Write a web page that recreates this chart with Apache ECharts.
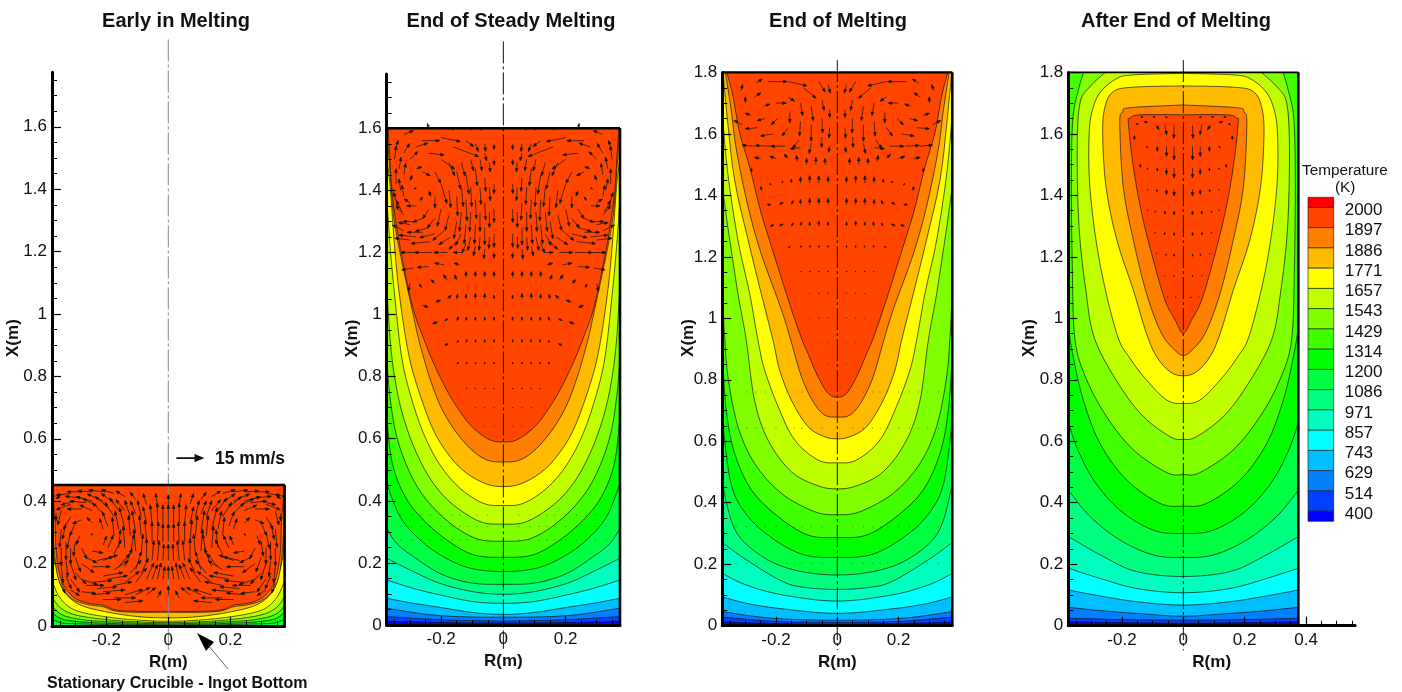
<!DOCTYPE html>
<html><head><meta charset="utf-8">
<style>html,body{margin:0;padding:0;background:#fff}#c{width:1402px;height:692px}</style>
<script src="https://cdn.jsdelivr.net/npm/echarts@6/dist/echarts.min.js"></script>
</head><body><div id="c"></div>
<script>
/* ---------- tick labels, legend ---------- */
const panelTitles = ['Early in Melting','End of Steady Melting','End of Melting','After End of Melting'];
const xMajor = [-0.2,0,0.2];
const xMajorLast = [-0.2,0,0.2,0.4];
const xMinor = [-0.35,-0.3,-0.25,-0.15,-0.1,-0.05,0.05,0.1,0.15,0.25,0.3,0.35];
const xMinorLast = [-0.35,-0.3,-0.25,-0.15,-0.1,-0.05,0.05,0.1,0.15,0.25,0.3,0.35,0.45,0.5,0.55];
const yMajor16 = [0,0.2,0.4,0.6,0.8,1,1.2,1.4,1.6];
const yMajor18 = [0,0.2,0.4,0.6,0.8,1,1.2,1.4,1.6,1.8];
const yMinor = [0.05,0.1,0.15,0.25,0.3,0.35,0.45,0.5,0.55,0.65,0.7,0.75,0.85,0.9,0.95,1.05,1.1,1.15,1.25,1.3,1.35,1.45,1.5,1.55,1.65,1.7,1.75];
const legendLabels = ['2000','1897','1886','1771','1657','1543','1429','1314','1200','1086','971','857','743','629','514','400'];
const bandColors = ['#ff0000','#ff4500','#ff8000','#ffbb00','#ffff00','#bfff00','#80ff00','#40ff00','#00ff00','#00ff40','#00ff80','#00ffbf','#00ffff','#00bfff','#0080ff','#0040ff','#0000ff'];

/* ---------- temperature contours: right half, [R, X] in metres ---------- */
const p1Contours = [
 [[0,.047],[.098,.047],[.168,.051],[.211,.067],[.258,.073],[.308,.094],[.345,.147],[.361,.233],[.365,.33],[.371,.41],[.375,.452]],
 [[0,.044],[.098,.044],[.17,.048],[.211,.062],[.26,.069],[.312,.088],[.351,.14],[.367,.23],[.372,.33],[.375,.42]],
 [[0,.026],[.098,.03],[.205,.046],[.29,.07],[.339,.115],[.36,.18],[.372,.24],[.375,.29]],
 [[0,.015],[.098,.019],[.205,.03],[.301,.051],[.349,.09],[.375,.145]],
 [[0,.011],[.098,.013],[.205,.021],[.301,.036],[.35,.06],[.375,.095]],
 [[0,.007],[.205,.014],[.3,.024],[.35,.04],[.375,.065]],
 [[0,.004],[.205,.009],[.3,.015],[.35,.025],[.375,.045]],
 [[0,.002],[.3,.007],[.35,.012],[.375,.022]]
];
const p2Contours = [
 [[0,.59],[.043,.596],[.096,.634],[.139,.687],[.182,.757],[.225,.845],[.257,.925],[.289,1.015],[.322,1.165],[.348,1.316],[.359,1.412],[.37,1.585],[.372,1.6]],
 [[0,.525],[.054,.532],[.107,.569],[.161,.634],[.204,.709],[.238,.8],[.263,.886],[.277,.94],[.3,1.047],[.332,1.198],[.354,1.326],[.364,1.455],[.375,1.6]],
 [[0,.446],[.054,.454],[.118,.489],[.171,.542],[.225,.628],[.273,.757],[.305,.875],[.332,1.047],[.348,1.198],[.364,1.412],[.375,1.5]],
 [[0,.385],[.064,.392],[.139,.44],[.204,.516],[.257,.618],[.3,.746],[.327,.865],[.348,1.047],[.364,1.219],[.375,1.38]],
 [[0,.325],[.075,.333],[.161,.387],[.225,.456],[.279,.553],[.322,.671],[.348,.789],[.364,.92],[.375,1.1]],
 [[0,.27],[.086,.278],[.171,.328],[.247,.403],[.3,.489],[.343,.607],[.365,.74],[.375,.865]],
 [[0,.218],[.096,.226],[.182,.274],[.257,.338],[.316,.414],[.357,.521],[.375,.671]],
 [[0,.172],[.107,.183],[.193,.22],[.268,.274],[.332,.349],[.375,.456]],
 [[0,.131],[.107,.136],[.204,.166],[.289,.22],[.343,.263],[.375,.311]],
 [[0,.099],[.096,.107],[.204,.134],[.289,.172],[.375,.215]],
 [[0,.07],[.096,.075],[.204,.097],[.289,.118],[.375,.145]],
 [[0,.034],[.096,.04],[.204,.057],[.289,.07],[.375,.086]],
 [[0,.025],[.204,.03],[.375,.054]],
 [[0,.013],[.2,.017],[.375,.027]],
 [[0,.006],[.2,.008],[.375,.012]]
];
const p3Contours = [
 [[0,.743],[.03,.756],[.063,.81],[.096,.886],[.115,.93],[.15,1.03],[.193,1.165],[.248,1.342],[.286,1.493],[.318,1.602],[.34,1.721],[.36,1.8]],
 [[0,.679],[.041,.685],[.079,.729],[.117,.81],[.152,.93],[.183,1.03],[.248,1.21],[.291,1.363],[.329,1.548],[.346,1.678],[.365,1.8]],
 [[0,.608],[.041,.615],[.096,.648],[.15,.734],[.188,.832],[.21,.93],[.248,1.081],[.291,1.255],[.335,1.45],[.357,1.634],[.373,1.8]],
 [[0,.53],[.063,.539],[.139,.604],[.193,.713],[.237,.832],[.259,.93],[.286,1.081],[.324,1.255],[.357,1.472],[.375,1.667]],
 [[0,.445],[.063,.455],[.15,.501],[.226,.604],[.27,.734],[.297,.93],[.324,1.081],[.357,1.298],[.375,1.43]],
 [[0,.361],[.074,.371],[.183,.431],[.27,.528],[.324,.648],[.355,.8],[.367,.93],[.375,1.1]],
 [[0,.287],[.096,.295],[.193,.355],[.28,.441],[.335,.561],[.362,.7],[.375,.88]],
 [[0,.222],[.107,.23],[.204,.279],[.291,.355],[.346,.46],[.375,.67]],
 [[0,.165],[.117,.176],[.215,.208],[.302,.27],[.345,.34],[.375,.463]],
 [[0,.118],[.10,.124],[.177,.143],[.296,.214],[.375,.271]],
 [[0,.08],[.177,.10],[.296,.132],[.375,.17]],
 [[0,.04],[.188,.056],[.296,.073],[.375,.094]],
 [[0,.018],[.21,.024],[.375,.046]],
 [[0,.011],[.2,.014],[.375,.028]],
 [[0,.005],[.2,.007],[.375,.012]]
];
const p4Contours = [
 [[0,.951],[.027,.995],[.06,1.06],[.098,1.19],[.136,1.342],[.163,1.493],[.179,1.634],[.174,1.651],[.141,1.662],[0,1.662]],
 [[0,.88],[.022,.891],[.071,.951],[.12,1.081],[.163,1.255],[.196,1.428],[.207,1.634],[.198,1.671],[.174,1.685],[0,1.694]],
 [[0,.813],[.043,.826],[.087,.875],[.12,.95],[.163,1.092],[.217,1.255],[.252,1.428],[.263,1.602],[.255,1.689],[.228,1.738],[.163,1.752],[0,1.756]],
 [[0,.723],[.054,.734],[.12,.799],[.174,.87],[.217,.95],[.272,1.179],[.304,1.417],[.307,1.602],[.293,1.689],[.266,1.741],[.217,1.78],[.163,1.792],[0,1.797]],
 [[0,.606],[.043,.615],[.13,.68],[.207,.78],[.288,.93],[.318,1.092],[.34,1.298],[.346,1.548],[.337,1.7],[.304,1.754],[.255,1.8]],
 [[0,.492],[.054,.498],[.163,.572],[.25,.68],[.315,.80],[.353,.93],[.362,1.168],[.365,1.45],[.36,1.65],[.34,1.75],[.325,1.8]],
 [[0,.389],[.076,.398],[.185,.474],[.272,.593],[.326,.734],[.359,.875],[.375,.97]],
 [[0,.30],[.098,.311],[.207,.376],[.293,.474],[.348,.582],[.375,.664]],
 [[0,.222],[.098,.23],[.207,.279],[.304,.355],[.375,.441]],
 [[0,.16],[.152,.176],[.261,.225],[.375,.29]],
 [[0,.107],[.152,.121],[.272,.154],[.375,.187]],
 [[0,.067],[.152,.078],[.272,.097],[.375,.116]],
 [[0,.031],[.152,.04],[.272,.049],[.375,.06]],
 [[0,.018],[.2,.02],[.375,.024]],
 [[0,.008],[.2,.01],[.375,.013]]
];

/* ---------- velocity vectors: right half, [R(m), X(m), u(mm/s), v(mm/s)] ---------- */
const p1Vectors = [
 [0,.38,0,7],[0,.33,0,10],[0,.27,0,10],[0,.21,0,9],[0,.15,0,7],[0,.1,0,5],
 [.035,.385,1,7],[.035,.33,0,11],[.035,.27,-.5,11],[.035,.21,-1,11],[.035,.15,-2,9],[.035,.09,-2,4],
 [.07,.39,2,6],[.07,.33,2,9],[.07,.27,1,12],[.07,.21,0,12],[.07,.15,-4,9],[.07,.1,-5,4],
 [.105,.405,3,4],[.105,.36,3,7],[.105,.3,2,12],[.105,.24,1,12],[.105,.18,-3,10],[.105,.14,-6,8],[.105,.1,-8,4],
 [.14,.415,5,3],[.14,.37,5,6],[.14,.31,3,12],[.14,.25,1,12],[.14,.19,-4,10],[.14,.14,-8,6],[.14,.1,-10,3],[.14,.075,-10,1],
 [.175,.425,7,2],[.175,.395,7,5],[.175,.35,5,8],[.175,.29,1,10],[.175,.23,-4,8],[.175,.18,-8,5],[.175,.13,-10,2],[.175,.09,-12,0],
 [.21,.43,8,1],[.21,.4,9,4],[.21,.36,6,6],[.21,.31,2,6],[.21,.26,-2,5],[.21,.21,-8,3],[.21,.16,-11,2],[.21,.11,-12,1],[.21,.085,-10,0],
 [.245,.43,8,.5],[.245,.4,9,2.5],[.245,.37,7,3],[.245,.33,3,3],[.25,.29,-1,1],[.245,.24,-6,-1],[.245,.19,-10,0],[.245,.14,-11,1],[.245,.1,-10,1],
 [.28,.43,8,0],[.28,.41,9,1],[.28,.375,8,0],[.28,.34,5,-2],[.285,.29,2,-5],[.28,.25,-3,-6],[.28,.2,-7,-5],[.28,.15,-9,-3],[.28,.11,-8,-1],
 [.315,.425,8,-1],[.315,.39,8,-3],[.315,.35,4,-7],[.315,.3,2,-9],[.315,.25,0,-9],[.315,.2,-3,-9],[.315,.15,-5,-7],[.315,.115,-5,-3],
 [.345,.42,3,-2],[.345,.37,2,-8],[.345,.31,1,-10],[.345,.25,0,-10],[.345,.19,-1,-9],[.345,.14,-2,-6],
 [.365,.42,1,-1],[.362,.36,0,-4],
 [.0175,.33,0,10],[.0175,.27,0,10],[.0175,.21,-.5,9],[.0175,.15,-1,7],[.0525,.33,1,10],[.0525,.27,0,11],[.0525,.21,-1,11],[.0525,.15,-3,8],
 [.0875,.35,2,9],[.0875,.29,1,11],[.0875,.23,-1,11],[.0875,.17,-4,8],[.1225,.35,3,9],[.1225,.29,1,11],[.1225,.23,-2,11],[.1225,.17,-6,7],
 [.16,.37,5,7],[.16,.31,2,10],[.16,.25,-1,10],[.16,.19,-6,7],[.195,.38,7,6],[.195,.32,3,8],[.195,.25,-3,7],[.195,.15,-11,2],
 [.23,.385,8,4],[.23,.21,-9,2],[.23,.12,-11,1],[.265,.395,9,1],[.265,.22,-6,-3],[.265,.13,-10,0],
 [.3,.4,8,-2],[.3,.33,3,-7],[.3,.27,1,-8],[.3,.22,-3,-8],[.3,.17,-6,-6],[.33,.33,2,-9],[.33,.27,0,-10],[.33,.21,-1,-9],[.33,.16,-3,-7]
];
const p2Vectors = [
 [.03,1.55,0,-3],[.03,1.5,0,-3],[.03,1.42,0,-5],[.03,1.34,0,-7],[.03,1.26,0,-7],[.03,1.2,0,-3],
 [.06,1.55,-.5,-4],[.06,1.52,-1,-4],[.06,1.44,-.5,-7],[.06,1.36,-.5,-9],[.06,1.28,0,-9],[.06,1.21,.5,-5],
 [.09,1.55,-1.5,-4],[.09,1.47,-1,-9],[.09,1.37,-.5,-10],[.09,1.29,.5,-10],[.09,1.22,1,-5],
 [.12,1.56,-4,-3],[.12,1.45,-1.5,-10],[.12,1.37,-.5,-11],[.12,1.29,1,-10],[.12,1.23,2,-5],
 [.16,1.54,-13,-5],[.15,1.46,-2,-9],[.15,1.38,-.5,-10],[.15,1.3,1.5,-9],[.15,1.235,4,-4],
 [.2,1.57,-10,-2],[.2,1.5,-7,-5],[.2,1.42,-3,-10],[.2,1.34,2,-9],[.19,1.27,6,-5],
 [.26,1.56,-9,0],[.24,1.52,-8,-1],[.24,1.4,-1,-3],[.24,1.34,3,-5],[.24,1.28,7,-2],[.235,1.235,10,-1],
 [.28,1.54,-6,2],[.28,1.47,-3,1],[.28,1.41,1,-1],[.28,1.35,5,0],[.28,1.3,7,0],[.28,1.25,9,1],
 [.32,1.58,-5,2],[.32,1.52,-3,5],[.32,1.45,-1,6],[.32,1.38,1,6],[.32,1.32,4,5],[.32,1.27,6,3],
 [.35,1.53,-2,5],[.35,1.5,-1,7],[.345,1.42,0,8],[.34,1.35,2,7],
 [.13,1.2,5,0],[.18,1.2,7,0],[.23,1.2,9,0],[.28,1.2,8,0],
 [.14,1.16,3,1],[.19,1.16,5,1],[.24,1.155,6,-.5],[.29,1.15,6,-1],
 [.3,1.1,1,-4],[.27,1.1,-1,-2],[.26,1.03,-3,-1],[.22,1.04,-3,1],[.18,1.05,-2,2],[.22,1.1,2,2],
 [.03,1.12,0,3],[.06,1.12,0,3],[.09,1.12,0,3],[.12,1.12,0,3],[.15,1.11,1,3],[.18,1.11,2,3],
 [.03,1.05,0,2],[.06,1.05,0,3],[.09,1.05,0,3],[.12,1.05,0,2.5],[.15,1.05,-.5,2.5],
 [.03,.98,0,2],[.06,.98,0,2],[.09,.98,0,2],[.12,.98,-.3,2],[.15,.98,-1,2],[.19,.98,-2,1],[.23,.97,-3,1],
 [.03,.91,0,1.5],[.06,.91,0,1.5],[.09,.91,-.2,1.5],[.12,.91,-.5,1.5],[.15,.91,-1,1],[.19,.9,-2,1],
 [.03,.84,0,1],[.06,.84,0,1],[.09,.84,-.2,1],[.12,.84,-.5,1],[.15,.84,-1,1],
 [.03,.76,0,.5],[.06,.76,0,.6],[.09,.76,0,.6],[.12,.76,-.3,.5],[.03,.7,0,.3],[.06,.7,0,.3],[.09,.7,0,.3],[.03,.64,0,.2],[.06,.64,0,.2],
 [.24,1.6,.6,2.5],[.1,1.595,1,.6],[.07,1.595,1,.4],[.16,1.595,1,.6],
 [.045,1.49,-.5,-5],[.045,1.41,-.5,-7],[.045,1.33,0,-8],[.045,1.25,.3,-6],
 [.075,1.5,-1,-6],[.075,1.41,-.5,-9],[.075,1.33,0,-10],[.075,1.25,.5,-7],
 [.105,1.5,-1.5,-6],[.105,1.41,-.5,-10],[.105,1.33,.5,-10],[.105,1.25,1.5,-7],
 [.135,1.49,-2,-7],[.135,1.41,-1,-10],[.135,1.33,1,-10],[.135,1.26,3,-6],
 [.175,1.49,-3,-7],[.175,1.4,-1,-9],[.175,1.32,2,-8],[.17,1.25,6,-4],
 [.22,1.46,-3,-6],[.22,1.38,0,-6],[.22,1.31,4,-5],[.22,1.26,8,-2],
 [.26,1.46,-4,-2],[.26,1.38,1,-2],[.26,1.31,5,-2],[.26,1.265,8,0],
 [.3,1.5,-4,4],[.3,1.43,-1,3],[.3,1.36,3,2],[.3,1.29,6,1],[.3,1.24,8,1],
 [.335,1.47,-1,6],[.33,1.4,1,6],[.325,1.33,3,6]
];
const p3Vectors = [
 [.03,1.76,-1,-4],[.06,1.77,-3,-5],[.11,1.75,-6,-5],[.16,1.77,-9,-2],[.225,1.77,-9,0],[.265,1.765,-3,2],
 [.025,1.68,0,-4],[.025,1.62,.3,-5],[.025,1.56,.5,-3],[.05,1.71,-1,-5],[.05,1.65,-.3,-7],[.05,1.59,.2,-5],
 [.085,1.69,-1,-7],[.085,1.63,0,-8],[.085,1.57,1,-5],[.12,1.7,-1,-6],[.12,1.64,.5,-7],[.125,1.58,3,-4],
 [.16,1.72,-3,-2],[.155,1.67,0,-5],[.16,1.62,3,-4],[.2,1.7,-5,0],[.195,1.65,3,-3],[.24,1.69,-3,1],[.235,1.65,4,-1],[.21,1.6,6,-1],
 [.27,1.72,-3,2],[.28,1.66,3,1],[.26,1.62,6,-.5],[.3,1.7,0,3],[.31,1.63,4,2],[.315,1.74,-1,3],
 [.12,1.555,5,-.5],[.17,1.56,7,0],[.22,1.56,7,.3],[.27,1.56,6,.5],
 [.04,1.5,0,3],[.07,1.5,0,3.5],[.1,1.5,0,3],[.13,1.51,.5,3],[.16,1.52,2,2],[.2,1.52,3,1],[.25,1.52,3,.5],[.28,1.49,0,-2],
 [.03,1.44,0,3],[.06,1.44,0,3.5],[.09,1.44,0,3.5],[.12,1.44,0,3],[.15,1.44,0,2],[.18,1.44,-.3,1],[.22,1.44,-.5,-1],[.25,1.43,-.5,-2],
 [.03,1.37,0,3],[.06,1.37,0,3],[.09,1.37,0,3],[.12,1.37,0,2.5],[.15,1.37,-1,2],[.19,1.37,-2,1],[.23,1.37,-2,0],
 [.03,1.3,0,2],[.06,1.3,0,2.5],[.09,1.3,0,2],[.12,1.3,-.5,2],[.15,1.3,-1,1.5],[.19,1.3,-2,1],[.22,1.3,-2,.5],
 [.03,1.23,0,1],[.06,1.23,0,1],[.09,1.23,-.3,1],[.12,1.23,-.5,1],[.16,1.23,-1,.5],
 [.03,1.15,0,.6],[.06,1.15,0,.6],[.09,1.15,-.2,.6],[.12,1.15,-.3,.4],[.03,1.08,0,.4],[.06,1.08,0,.4],[.09,1.08,0,.3],
 [.03,1,0,.3],[.06,1,0,.3],[.09,1,0,.2],[.03,.92,0,.2],[.06,.92,0,.2],[.03,.85,0,.2]
];
const p4Vectors = [
 [.03,1.63,.2,-8],[.06,1.63,-1,-6],[.09,1.63,-2,-3],[.13,1.64,-2.5,-.5],[.155,1.63,-1.5,.5],
 [.03,1.56,0,-8],[.055,1.56,0,-6],[.085,1.56,0,-3],[.115,1.56,1,-1],[.16,1.58,-.2,2.5],
 [.03,1.49,0,-6],[.055,1.49,0,-4],[.085,1.49,0,-2],[.115,1.49,.5,-1],[.14,1.49,0,2],
 [.03,1.42,0,-4],[.055,1.42,0,-3],[.085,1.42,.3,-1.5],[.115,1.42,.5,-.5],
 [.03,1.35,0,-2.5],[.06,1.35,0,-2],[.09,1.35,.5,-1],[.115,1.35,.5,.5],
 [.03,1.28,0,-2],[.06,1.28,.3,-1.5],[.09,1.28,.5,-.5],
 [.03,1.21,0,-1.5],[.055,1.21,.3,-1],[.085,1.21,.5,.3],
 [.03,1.14,0,-1],[.06,1.14,.3,-.5],[.025,1.07,0,-.6],[.05,1.07,.2,-.3],
 [.1,1.655,-1.5,0],[.06,1.655,-1.5,-.3],[.14,1.655,-1.5,0]
];
const vectorDotColumns = [.05,.085,.115,.14,.165,.2,.235,.265,.295,.33];
const p2DotRows = [.354,.317,.274];
const p3DotRows = [.76,.642,.322,.203];
const referenceVector = [[.026,.538,15,0]];

/* ---------- layout (pixels) ---------- */
const layouts = [
 {left:52,  top:72.2,width:232.6,height:553.8,xMax:.375,yMax:1.775,wallTop:.452,center:[1.88,-.077],cl:'#8a8a8a',xM:xMajor,xm:xMinor,yM:yMajor16,vs:.0058,vw:.75,yGap:30},
 {left:386.7,top:74, width:233.3,height:551,  xMax:.375,yMax:1.775,wallTop:1.6, center:[1.88,-.077],cl:'#111',xM:xMajor,xm:xMinor,yM:yMajor16,vs:.0062,vw:.7,yGap:26},
 {left:722.3,top:72.4,width:230, height:553.3,xMax:.375,yMax:1.8,  wallTop:1.8, center:[1.84,-.08],cl:'#111',xM:xMajor,xm:xMinor,yM:yMajor18,vs:.0068,vw:.7,yGap:25},
 {left:1068.3,top:72.4,width:286.8,height:553.3,xMax:.56,yMax:1.8, wallTop:1.8, center:[1.84,-.08],cl:'#111',xM:xMajorLast,xm:xMinorLast,yM:yMajor18,vs:.0056,vw:.7,yGap:30}
];
const contoursByPanel = [p1Contours,p2Contours,p3Contours,p4Contours];
const vectorsByPanel = [p1Vectors,p2Vectors,p3Vectors,p4Vectors];
const WALL = .375, MM_S_TO_M = .00557, FONT = 'Arial, "Liberation Sans", sans-serif';

function crossDots(rows){const o=[];rows.forEach(x=>vectorDotColumns.forEach(r=>o.push([r,x,0,0])));return o;}
const dotsByPanel = [[],crossDots(p2DotRows),crossDots(p3DotRows),[]];
function mirrored(list){
  const out=[];
  list.forEach(v=>{out.push(v); if(v[0]!==0) out.push([-v[0],v[1],-v[2],v[3]]);});
  return out;
}
function smoothPath(p){
  let d='M'+p[0][0].toFixed(1)+' '+p[0][1].toFixed(1);
  for(let i=0;i<p.length-1;i++){
    const a=p[Math.max(i-1,0)],b=p[i],c=p[i+1],e=p[Math.min(i+2,p.length-1)];
    d+='C'+(b[0]+(c[0]-a[0])/6).toFixed(1)+' '+(b[1]+(c[1]-a[1])/6).toFixed(1)+' '
      +(c[0]-(e[0]-b[0])/6).toFixed(1)+' '+(c[1]-(e[1]-b[1])/6).toFixed(1)+' '
      +c[0].toFixed(1)+' '+c[1].toFixed(1);
  }
  return d;
}
function contourRender(contours,top){
  return function(params,api){
    const idx=contours.length-1-params.dataIndex;
    const right=contours[idx];
    const left=right.slice(1).reverse().map(q=>[-q[0],q[1]]);
    const pts=left.concat(right).map(q=>api.coord(q));
    const last=right[right.length-1];
    let d=smoothPath(pts);
    if(last[0]!==0 && last[1]<top){
      const a=api.coord([WALL,top]),b=api.coord([-WALL,top]);
      d+='L'+a[0].toFixed(1)+' '+a[1].toFixed(1)+'L'+b[0].toFixed(1)+' '+b[1].toFixed(1);
    }
    d+='Z';
    return {type:'path',shape:{pathData:d},
      style:{fill:bandColors[idx+1],stroke:'rgba(15,15,15,.85)',lineWidth:.8}};
  };
}
function vectorRender(scale,width,head,halfHead){
  return function(params,api){
    const R=api.value(0),X=api.value(1),u=api.value(2),v=api.value(3);
    const t=api.coord([R,X]);
    if(u===0&&v===0){return {type:'rect',shape:{x:t[0]-.5,y:t[1]-.5,width:1,height:1},style:{fill:'rgba(20,40,0,.55)'}};}
    const h=api.coord([R+u*scale,X+v*scale]);
    const dx=h[0]-t[0],dy=h[1]-t[1],L=Math.hypot(dx,dy)||1,ux=dx/L,uy=dy/L;
    const hs=Math.min(head,L*.6),hw=halfHead*hs/head;
    const bx=h[0]-ux*hs,by=h[1]-uy*hs;
    const d='M'+t[0].toFixed(1)+' '+t[1].toFixed(1)+'L'+bx.toFixed(1)+' '+by.toFixed(1)
      +'M'+h[0].toFixed(1)+' '+h[1].toFixed(1)+'L'+(bx-uy*hw).toFixed(1)+' '+(by+ux*hw).toFixed(1)
      +'L'+(bx+uy*hw).toFixed(1)+' '+(by-ux*hw).toFixed(1)+'Z';
    return {type:'path',shape:{pathData:d},style:{fill:'#111',stroke:'#111',lineWidth:width}};
  };
}

const grid=[],xAxis=[],yAxis=[],series=[];
layouts.forEach((g,i)=>{
  grid.push({left:g.left,top:g.top,width:g.width,height:g.height,containLabel:false,outerBoundsMode:'none'});
  const common={gridIndex:i,type:'value',position:'bottom',min:-WALL,max:g.xMax,splitLine:{show:false},z:8};
  xAxis.push(Object.assign({},common,{
    name:'R(m)',nameLocation:'middle',nameGap:26,
    nameTextStyle:{fontFamily:FONT,fontSize:17,fontWeight:'bold',color:'#111'},
    axisLine:{show:true,onZero:false,lineStyle:{color:'#000',width:3}},
    axisTick:{show:true,inside:true,length:9,customValues:g.xM,lineStyle:{color:'#000',width:1.2}},
    axisLabel:{show:true,customValues:g.xM,margin:6,fontFamily:FONT,fontSize:17,color:'#111',formatter:v=>String(v)}
  }));
  xAxis.push(Object.assign({},common,{
    axisLine:{show:false,onZero:false},
    axisTick:{show:true,inside:true,length:5,customValues:g.xm,lineStyle:{color:'#000',width:1}},
    axisLabel:{show:false}
  }));
  const ycommon={gridIndex:i,type:'value',position:'left',min:0,max:g.yMax,splitLine:{show:false},z:8};
  yAxis.push(Object.assign({},ycommon,{
    name:'X(m)',nameLocation:'middle',nameGap:g.yGap,nameRotate:90,nameMoveOverlap:false,
    nameTextStyle:{fontFamily:FONT,fontSize:17,fontWeight:'bold',color:'#111',padding:[0,0,0,22]},
    axisLine:{show:true,onZero:false,lineStyle:{color:'#000',width:3}},
    axisTick:{show:true,inside:true,length:9,customValues:g.yM,lineStyle:{color:'#000',width:1.2}},
    axisLabel:{show:true,customValues:g.yM,margin:5,fontFamily:FONT,fontSize:17,color:'#111',formatter:v=>String(v)}
  }));
  yAxis.push(Object.assign({},ycommon,{
    axisLine:{show:false,onZero:false},
    axisTick:{show:true,inside:true,length:5,customValues:yMinor,lineStyle:{color:'#000',width:1}},
    axisLabel:{show:false}
  }));
  const xi=i*2, yi=i*2;
  const contours=contoursByPanel[i];
  series.push({type:'custom',name:'base'+i,xAxisIndex:xi,yAxisIndex:yi,coordinateSystem:'cartesian2d',z:2,silent:true,
    data:[[WALL,g.wallTop]],
    renderItem:(p,api)=>{const a=api.coord([-api.value(0),api.value(1)]),b=api.coord([api.value(0),0]);
      return {type:'rect',shape:{x:a[0],y:a[1],width:b[0]-a[0],height:b[1]-a[1]},style:{fill:bandColors[contours.length+1]}};}});
  series.push({type:'custom',name:'contours'+i,xAxisIndex:xi,yAxisIndex:yi,coordinateSystem:'cartesian2d',z:3,silent:true,
    data:contours.map((c,k)=>[k]),renderItem:contourRender(contours,g.wallTop),clip:true});
  series.push({type:'custom',name:'centre'+i,xAxisIndex:xi,yAxisIndex:yi,coordinateSystem:'cartesian2d',z:4,silent:true,clip:false,
    data:[[0,g.center[0],g.center[1]]],
    renderItem:(p,api)=>{const a=api.coord([0,api.value(1)]),b=api.coord([0,api.value(2)]);
      return {type:'line',shape:{x1:a[0],y1:a[1],x2:b[0],y2:b[1]},style:{stroke:g.cl,lineWidth:1,lineDash:[22,3,3,3]}};}});
  series.push({type:'custom',name:'vectors'+i,xAxisIndex:xi,yAxisIndex:yi,coordinateSystem:'cartesian2d',z:5,silent:true,clip:false,
    data:mirrored(vectorsByPanel[i]).concat(mirrored(dotsByPanel[i])),renderItem:vectorRender(g.vs,g.vw,3.6,1.3)});
  series.push({type:'custom',name:'frame'+i,xAxisIndex:xi,yAxisIndex:yi,coordinateSystem:'cartesian2d',z:6,silent:true,clip:false,
    data:[[WALL,g.wallTop]],
    renderItem:(p,api)=>{const w=api.value(0),t=api.value(1);const a=api.coord([-w,t]),b=api.coord([w,t]),c=api.coord([w,0]);
      return {type:'group',children:[
        {type:'line',shape:{x1:a[0],y1:a[1],x2:b[0],y2:b[1]},style:{stroke:'#000',lineWidth:i===3?1.6:2.4}},
        {type:'line',shape:{x1:b[0],y1:b[1],x2:c[0],y2:c[1]},style:{stroke:'#000',lineWidth:2.6}}]};}});
});
series.push({type:'custom',name:'reference',xAxisIndex:0,yAxisIndex:0,coordinateSystem:'cartesian2d',z:7,silent:true,clip:false,
  data:referenceVector,renderItem:vectorRender(MM_S_TO_M,1.6,7,3)});

const legendEdges=[-.5,0,1,2,3,4,5,6,7,8,9,10,11,12,13,14,15,15.5];
const legendTicks=legendLabels.map((_,k)=>k+.15);
grid.push({left:1308,top:197.3,width:25.7,height:324,outerBoundsMode:'none'});
xAxis.push({gridIndex:4,type:'value',min:0,max:1,show:false});
yAxis.push({gridIndex:4,type:'value',inverse:true,min:-.5,max:15.5,position:'right',
  splitLine:{show:false},axisLine:{show:false,onZero:false},axisTick:{show:false},
  axisLabel:{show:true,customValues:legendTicks,margin:11,fontFamily:FONT,fontSize:17,color:'#111',formatter:v=>legendLabels[Math.round(v-.15)]}});
series.push({type:'custom',name:'legend',xAxisIndex:8,yAxisIndex:8,coordinateSystem:'cartesian2d',z:3,silent:true,
  data:bandColors.map((c,j)=>[j]),
  renderItem:(p,api)=>{const j=api.value(0);const a=api.coord([0,legendEdges[j]]),b=api.coord([1,legendEdges[j+1]]);
    return {type:'rect',shape:{x:a[0],y:a[1],width:b[0]-a[0],height:b[1]-a[1]},style:{fill:bandColors[j],stroke:'rgba(20,30,20,.8)',lineWidth:.8}};}});

const titleCenters=[176,511,838,1176];
const chart=echarts.init(document.getElementById('c'),null,{renderer:'canvas'});
chart.setOption({
  animation:false,backgroundColor:'#fff',
  title:panelTitles.map((t,i)=>({text:t,left:titleCenters[i],top:11,padding:0,textAlign:'center',
    textStyle:{fontFamily:FONT,fontSize:20,fontWeight:'bold',color:'#111'}})),
  grid,xAxis,yAxis,series,
  graphic:[
    {type:'text',left:215,top:450,z:20,style:{text:'15 mm/s',fontFamily:FONT,fontSize:17.5,fontWeight:'bold',fill:'#111'}},
    {type:'text',left:47,top:676,z:20,style:{text:'Stationary Crucible - Ingot Bottom',fontFamily:FONT,fontSize:16,fontWeight:'bold',fill:'#111'}},
    {type:'text',left:1302,top:163,z:20,style:{text:'Temperature',fontFamily:FONT,fontSize:15.3,fill:'#111'}},
    {type:'text',left:1335,top:180,z:20,style:{text:'(K)',fontFamily:FONT,fontSize:15.3,fill:'#111'}},
    {type:'polygon',z:20,shape:{points:[[197,633],[214,642],[206,651]]},style:{fill:'#000'}},
    {type:'line',z:20,shape:{x1:208,y1:645,x2:228,y2:669},style:{stroke:'#444',lineWidth:.8}}
  ]
});
</script></body></html>
